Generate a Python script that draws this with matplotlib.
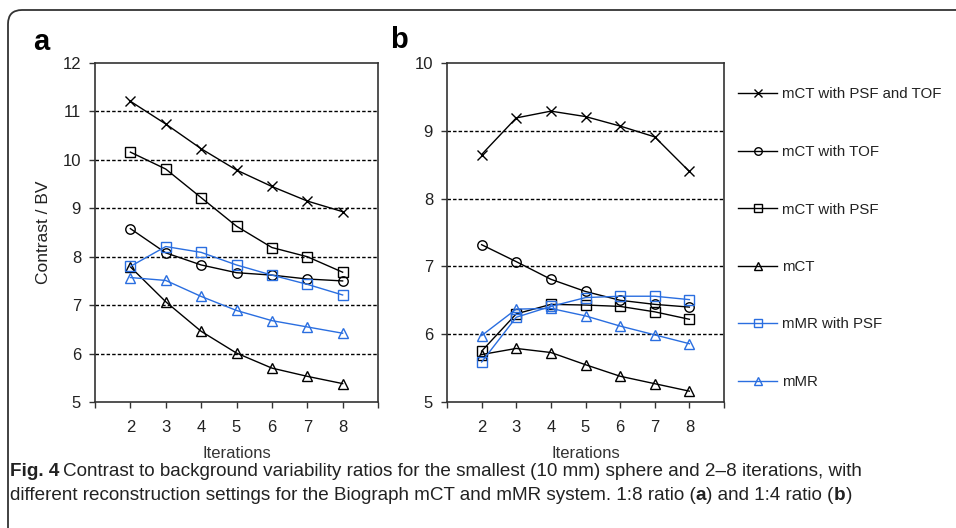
import matplotlib
matplotlib.use('Agg')
import matplotlib.pyplot as plt
from matplotlib import font_manager
from matplotlib.patches import FancyBboxPatch
from matplotlib.transforms import IdentityTransform

names = {f.name for f in font_manager.fontManager.ttflist}
SANS = 'Liberation Sans' if 'Liberation Sans' in names else 'DejaVu Sans'
NARROW = 'Liberation Sans Narrow' if 'Liberation Sans Narrow' in names else SANS
plt.rcParams['font.family'] = [SANS, 'DejaVu Sans']

iterations = [2, 3, 4, 5, 6, 7, 8]
series_labels = ['mCT with PSF and TOF', 'mCT with TOF', 'mCT with PSF', 'mCT',
                 'mMR with PSF', 'mMR']

# Panel a (1:8 ratio)
a_mct_psf_tof = [11.21, 10.74, 10.23, 9.79, 9.45, 9.15, 8.93]
a_mct_tof = [8.58, 8.08, 7.83, 7.67, 7.62, 7.54, 7.50]
a_mct_psf = [10.16, 9.81, 9.22, 8.63, 8.19, 8.00, 7.68]
a_mct = [7.79, 7.07, 6.46, 6.01, 5.70, 5.53, 5.38]
a_mmr_psf = [7.80, 8.21, 8.09, 7.83, 7.62, 7.43, 7.21]
a_mmr = [7.57, 7.51, 7.18, 6.89, 6.68, 6.55, 6.42]

# Panel b (1:4 ratio)
b_mct_psf_tof = [8.65, 9.19, 9.29, 9.21, 9.07, 8.91, 8.40]
b_mct_tof = [7.32, 7.07, 6.81, 6.63, 6.50, 6.44, 6.40]
b_mct_psf = [5.75, 6.30, 6.44, 6.43, 6.41, 6.33, 6.22]
b_mct = [5.70, 5.79, 5.73, 5.55, 5.38, 5.27, 5.16]
b_mmr_psf = [5.59, 6.25, 6.41, 6.54, 6.56, 6.56, 6.51]
b_mmr = [5.98, 6.37, 6.38, 6.27, 6.12, 5.99, 5.86]

a_ticks = [5, 6, 7, 8, 9, 10, 11, 12]
b_ticks = [5, 6, 7, 8, 9, 10]

BLUE = '#2a6ee0'
styles = [('x', 'black'), ('o', 'black'), ('s', 'black'), ('^', 'black'),
          ('s', BLUE), ('^', BLUE)]

W, H = 956, 528
fig = plt.figure(figsize=(W / 100, H / 100), dpi=100)
fig.patch.set_facecolor('white')

def frac(x0, y0, x1, y1):
    return [x0 / W, 1 - y1 / H, (x1 - x0) / W, (y1 - y0) / H]

ax_a = fig.add_axes(frac(95, 63, 378, 402))
ax_b = fig.add_axes(frac(447, 63, 724, 402))

def draw(ax, data, yticks):
    for vals, (m, c), lab in zip(data, styles, series_labels):
        ax.plot(iterations, vals, color=c, marker=m, ms=6.8 if m != 'x' else 7.2,
                mfc='none', mec=c, mew=1.0, lw=1.0, label=lab)
    ax.set_xlim(1, 9)
    ax.set_ylim(yticks[0], yticks[-1])
    ax.set_yticks(yticks)
    ax.set_xticks(range(1, 10))
    ax.set_xticklabels(['' if t in (1, 9) else str(t) for t in range(1, 10)])
    for t in yticks[1:-1]:
        ax.axhline(t, color='black', ls=(0, (2.5, 1.5)), lw=1.0, zorder=0)
    for s in ax.spines.values():
        s.set_linewidth(1.2)
        s.set_color('#333333')
    ax.tick_params(axis='both', direction='out', length=4, width=1.0,
                   labelsize=12, colors='#333333', labelcolor='#222222')
    ax.tick_params(axis='x', pad=9)
    ax.tick_params(axis='y', pad=6)
    ax.set_xlabel('Iterations', fontsize=12, family=NARROW, color='#333333',
                  labelpad=8)

draw(ax_a, [a_mct_psf_tof, a_mct_tof, a_mct_psf, a_mct, a_mmr_psf, a_mmr], a_ticks)
draw(ax_b, [b_mct_psf_tof, b_mct_tof, b_mct_psf, b_mct, b_mmr_psf, b_mmr], b_ticks)
fig.text(43 / W, 1 - 232 / H, 'Contrast / BV', fontsize=12.5, color='#222222',
         rotation=90, ha='center', va='center')

handles, labels = ax_b.get_legend_handles_labels()
leg = fig.legend(handles, labels, loc='upper left',
                 bbox_to_anchor=(738 / W, 1 - 87.5 / H), bbox_transform=fig.transFigure,
                 frameon=False, fontsize=10.8, labelspacing=2.9, handlelength=2.6,
                 handletextpad=0.33, borderpad=0, borderaxespad=0, markerscale=0.8)
for t in leg.get_texts():
    t.set_color('#222222')

fig.text(33 / W, 1 - 42 / H, 'a', fontsize=21, fontweight='bold', va='center', ha='left')
fig.text(390 / W, 1 - 40 / H, 'b', fontsize=21, fontweight='bold', va='center', ha='left')

# outer rounded frame
frame = FancyBboxPatch((8, -60), 1100, H - 10 + 60,
                       boxstyle='round,pad=0,rounding_size=14',
                       transform=IdentityTransform(), fill=False,
                       edgecolor='#333333', lw=1.3)
fig.add_artist(frame)

# caption
cap_size = 13.6
t1 = fig.text(10 / W, 1 - 471 / H, 'Fig. 4', fontsize=cap_size, fontweight='bold',
              family=NARROW, va='center', ha='left', color='#222222')
fig.canvas.draw()
r = fig.canvas.get_renderer()
bb = t1.get_window_extent(r)
fig.text((bb.x1 + 4) / W, 1 - 471 / H,
         'Contrast to background variability ratios for the smallest (10 mm) sphere and 2\u20138 iterations, with',
         fontsize=cap_size, family=NARROW, va='center', ha='left', color='#222222')
line2 = fig.text(10 / W, 1 - 496 / H,
                 'different reconstruction settings for the Biograph mCT and mMR system. 1:8 ratio (',
                 fontsize=cap_size, family=NARROW, va='center', ha='left', color='#222222')
fig.canvas.draw()
x = line2.get_window_extent(r).x1
parts = [('a', 'bold'), (') and 1:4 ratio (', 'normal'), ('b', 'bold'), (')', 'normal')]
for s, w in parts:
    t = fig.text(x / W, 1 - 496 / H, s, fontsize=cap_size, fontweight=w,
                 family=NARROW, va='center', ha='left', color='#222222')
    fig.canvas.draw()
    x = t.get_window_extent(r).x1

fig.savefig('out.png', dpi=100)
